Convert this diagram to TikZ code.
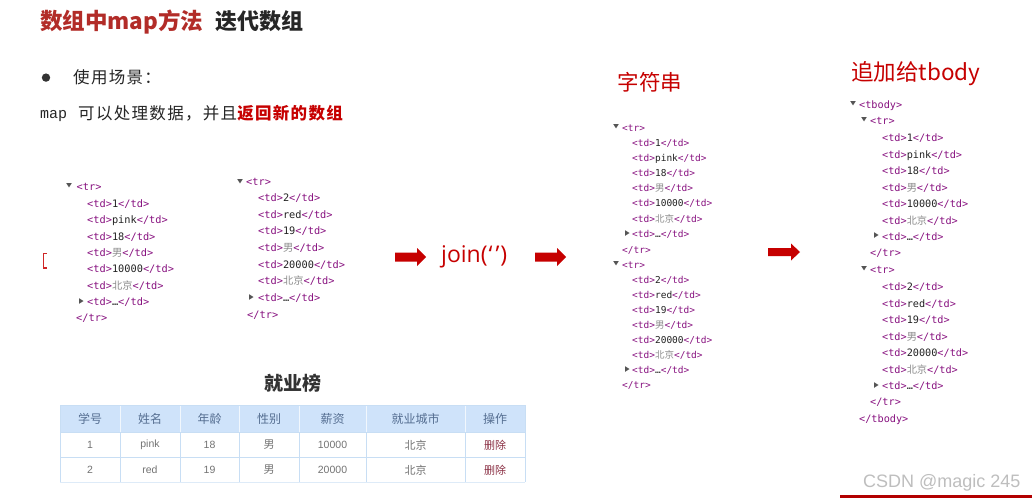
\documentclass[tikz,border=0pt]{standalone}
\usepackage{fontspec}
\setmainfont{Noto Sans CJK SC}
\newfontfamily\cjk{Noto Sans CJK SC}
\newfontfamily\cjksp[LetterSpace=8]{Noto Sans CJK SC}
\newfontfamily\mono{DejaVu Sans Mono}
\newfontfamily\cour{Liberation Mono}
\newfontfamily\lsans{Liberation Sans}
\newfontfamily\osans{Open Sans}

\definecolor{titred}{RGB}{178,44,40}
\definecolor{hred}{RGB}{198,0,0}
\definecolor{tagc}{RGB}{136,18,128}
\definecolor{txtc}{RGB}{34,34,34}
\definecolor{cjkg}{RGB}{140,140,140}
\definecolor{trig}{RGB}{85,85,85}
\definecolor{thfill}{RGB}{207,227,250}
\definecolor{tline}{RGB}{200,222,244}
\definecolor{thtext}{RGB}{85,110,145}
\definecolor{tdtext}{RGB}{115,115,115}
\definecolor{delc}{RGB}{140,50,70}
\definecolor{wmark}{RGB}{190,190,190}

\newcommand\tagt[1]{\textcolor{tagc}{#1}}
\newcommand\ctd[1]{\tagt{<td>}#1\tagt{</td>}}
\newcommand\zh[1]{{\cjk\color{cjkg}#1}}
\newcommand\tdn[2]{\fill[trig] ({#1-2.8},{#2-2}) -- ({#1+2.8},{#2-2}) -- (#1,{#2+2.4}) -- cycle;}
\newcommand\trt[2]{\fill[trig] ({#1-2},{#2-2.8}) -- ({#1+2.5},#2) -- ({#1-2},{#2+2.8}) -- cycle;}

\tikzset{
  codeL/.style={anchor=base west, inner sep=0, yshift=-3.6pt, text=txtc, font=\mono\fontsize{10.3}{12}\selectfont},
  codeR/.style={anchor=base west, inner sep=0, yshift=-3.6pt, text=txtc, font=\mono\fontsize{10.2}{12}\selectfont},
  codeS/.style={anchor=base west, inner sep=0, yshift=-3.3pt, text=txtc, font=\mono\fontsize{9.5}{11}\selectfont},
  th/.style={inner sep=0, text=thtext, font=\cjk\fontsize{12}{14}\selectfont},
  tdl/.style={inner sep=0, text=tdtext, font=\lsans\fontsize{10.5}{12}\selectfont},
  tdz/.style={inner sep=0, text=tdtext, font=\cjk\fontsize{11}{13}\selectfont},
  redhead/.style={inner sep=0, text=hred, font=\cjk\fontsize{21.5}{24}\selectfont},
}

\begin{document}
\begin{tikzpicture}[x=1pt,y=-1pt]
\useasboundingbox[fill=white] (0,0) rectangle (1032,498);

% ---------- title ----------
\node[anchor=base west, inner sep=0, text=titred, font=\cjk\bfseries\fontsize{22.5}{26}\selectfont] (title1) at (40,29.5) {数组中map方法};
\node[anchor=base west, inner sep=0, text=black!85, font=\cjk\bfseries\fontsize{22}{26}\selectfont] (title2) at (215,29.5) {迭代数组};

% ---------- bullet text ----------
\fill[black!80] (46,77.6) circle (4.2);
\node[anchor=base west, inner sep=0, text=black!85, font=\cjksp\fontsize{16.5}{19}\selectfont] (scene) at (73,83) {使用场景：};
\node[anchor=base west, inner sep=0, text=black!85, font=\cour\fontsize{15}{18}\selectfont] (mapw) at (40,118.5) {map};
\node[anchor=base west, inner sep=0, text=black!85, font=\cjksp\fontsize{16.5}{19}\selectfont] (mapdesc) at (78,119) {可以处理数据，并且\textcolor{hred}{\bfseries 返回新的数组}};

% ---------- left bracket ----------
\draw[hred!85, line width=1.3pt] (46.5,253.5) -- (43.5,253.5) -- (43.5,268) -- (46.5,268);

% ---------- block 1 ----------
\tdn{69}{185}
\node[codeL] (b1tr) at (76.5,187) {\tagt{<tr>}};
\foreach \t [count=\i] in {1,pink,18,\zh{男},10000,\zh{北京},…}
  {\node[codeL] (b1-\i) at (87,{204+(\i-1)*16.33}) {\ctd{\t}};}
\trt{81}{301}
\node[codeL] (b1end) at (76,318) {\tagt{</tr>}};

% ---------- block 2 ----------
\tdn{240}{181}
\node[codeL] (b2tr) at (246,182) {\tagt{<tr>}};
\foreach \t [count=\i] in {2,red,19,\zh{男},20000,\zh{北京},…}
  {\node[codeL] (b2-\i) at (258,{198+(\i-1)*16.67}) {\ctd{\t}};}
\trt{251}{297}
\node[codeL] (b2end) at (247,315) {\tagt{</tr>}};

% ---------- arrows ----------
\fill[hred] (395,252.5) -- (417,252.5) -- (417,248) -- (426,257) -- (417,266) -- (417,261.5) -- (395,261.5) -- cycle;
\node[anchor=base west, inner sep=0, text=hred, font=\osans\fontsize{23}{26}\selectfont] (join) at (441,262.5) {join(\kern1pt‘\kern3pt’\kern1pt)};
\fill[hred] (535,252.5) -- (557,252.5) -- (557,248) -- (566,257) -- (557,266) -- (557,261.5) -- (535,261.5) -- cycle;
\fill[hred] (768,248) -- (791,248) -- (791,243.5) -- (800,252) -- (791,260.5) -- (791,256) -- (768,256) -- cycle;

% ---------- block 3 (string) ----------
\node[redhead, anchor=center] (strhead) at (650,82) {字符串};
\tdn{616}{126}
\node[codeS] (b3tr) at (622,128) {\tagt{<tr>}};
\foreach \t [count=\i] in {1,pink,18,\zh{男},10000,\zh{北京},…}
  {\node[codeS] (b3-\i) at (632,{143+(\i-1)*15.17}) {\ctd{\t}};}
\trt{627}{233}
\node[codeS] (b3end) at (622,250) {\tagt{</tr>}};
\tdn{616}{263}
\node[codeS] (b3tr2) at (622,265) {\tagt{<tr>}};
\foreach \t [count=\i] in {2,red,19,\zh{男},20000,\zh{北京},…}
  {\node[codeS] (b3b-\i) at (632,{280+(\i-1)*15}) {\ctd{\t}};}
\trt{627}{369}
\node[codeS] (b3end2) at (622,385) {\tagt{</tr>}};

% ---------- block 4 (tbody) ----------
\node[inner sep=0, anchor=base west, text=hred, font=\cjk\fontsize{22.5}{26}\selectfont] (tbhead) at (851,80.5) {追加给tbody};
\tdn{853}{103}
\node[codeR] (b4tb) at (859,105) {\tagt{<tbody>}};
\tdn{864}{119}
\node[codeR] (b4tr) at (870,121) {\tagt{<tr>}};
\foreach \t [count=\i] in {1,pink,18,\zh{男},10000,\zh{北京},…}
  {\node[codeR] (b4-\i) at (882,{138+(\i-1)*16.5}) {\ctd{\t}};}
\trt{876}{235}
\node[codeR] (b4end) at (870,253) {\tagt{</tr>}};
\tdn{864}{268}
\node[codeR] (b4tr2) at (870,270) {\tagt{<tr>}};
\foreach \t [count=\i] in {2,red,19,\zh{男},20000,\zh{北京},…}
  {\node[codeR] (b4b-\i) at (882,{287+(\i-1)*16.5}) {\ctd{\t}};}
\trt{876}{385}
\node[codeR] (b4end2) at (870,402) {\tagt{</tr>}};
\node[codeR] (b4tbend) at (859,419) {\tagt{</tbody>}};

% ---------- table ----------
\node[inner sep=0, text=black!80, font=\cjk\bfseries\fontsize{19}{22}\selectfont] (tabtitle) at (293,383) {就业榜};
\fill[thfill] (60,405) rectangle (525,432.5);
\foreach \x in {120,180,239,299,366,465}
  {\draw[white!70!thfill, line width=0.8pt] (\x,405) -- (\x,432.5);
   \draw[tline, line width=0.8pt] (\x,432.5) -- (\x,482);}
\draw[tline, line width=0.8pt] (60,405) -- (525,405);
\draw[tline, line width=0.8pt] (60,432.5) -- (525,432.5);
\draw[tline, line width=0.8pt] (60,457) -- (525,457);
\draw[tline!60!white, line width=0.8pt] (60,482) -- (525,482);
\draw[tline, line width=0.8pt] (60,405) -- (60,482);
\draw[tline, line width=0.8pt] (525,405) -- (525,482);
\foreach \x/\t [count=\i] in {90/学号,150/姓名,209.5/年龄,269/性别,332.5/薪资,415.5/就业城市,495/操作}
  {\node[th] (h\i) at (\x,419) {\t};}
\node[tdl] (r1c1) at (90,445) {1};
\node[tdl] (r1c2) at (150,445) {pink};
\node[tdl] (r1c3) at (209.5,445) {18};
\node[tdz] (r1c4) at (269,445) {男};
\node[tdl] (r1c5) at (332.5,445) {10000};
\node[tdz] (r1c6) at (415.5,445) {北京};
\node[tdz, text=delc] (r1c7) at (495,445) {删除};
\node[tdl] (r2c1) at (90,470) {2};
\node[tdl] (r2c2) at (150,470) {red};
\node[tdl] (r2c3) at (209.5,470) {19};
\node[tdz] (r2c4) at (269,470) {男};
\node[tdl] (r2c5) at (332.5,470) {20000};
\node[tdz] (r2c6) at (415.5,470) {北京};
\node[tdz, text=delc] (r2c7) at (495,470) {删除};

% ---------- watermark ----------
\node[anchor=base west, inner sep=0, text=wmark, font=\lsans\fontsize{18}{20}\selectfont] (wm) at (863,487) {CSDN @magic 245};
\fill[hred!90!black] (840,495) rectangle (1032,497.5);
\end{tikzpicture}
\end{document}
